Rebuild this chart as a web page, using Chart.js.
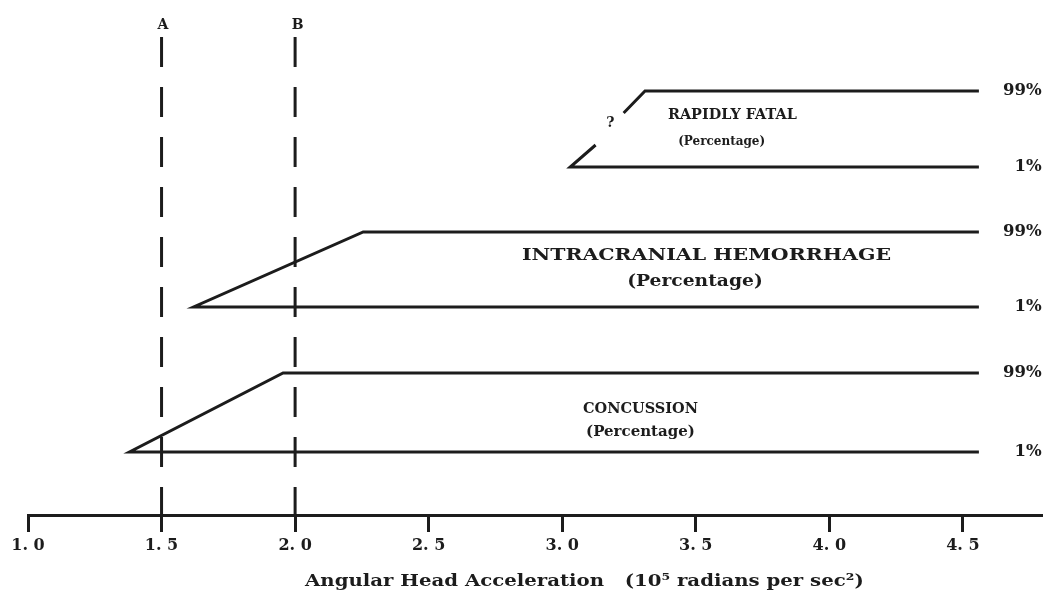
<!DOCTYPE html>
<html>
<head>
<meta charset="utf-8">
<script src="https://cdn.jsdelivr.net/npm/chart.js@4.4.0/dist/chart.umd.min.js"></script>
<style>
  html, body { margin: 0; padding: 0; background: #fff; }
  #wrap { width: 1043px; height: 591px; }
</style>
</head>
<body>
<div id="wrap"><canvas id="chartPlaceholder"></canvas></div>
<script>
// x: angular head acceleration (10^5 rad/s^2), y: arbitrary band height
const TICK_VALUES = [1.0, 1.5, 2.0, 2.5, 3.0, 3.5, 4.0, 4.5];
const TICK_LABELS = ["1. 0", "1. 5", "2. 0", "2. 5", "3. 0", "3. 5", "4. 0", "4. 5"];
const X_TITLE = "Angular Head Acceleration   (10\u2075 radians per sec\u00b2)";

// each band: 1% line drawn right-to-left, slope up, then 99% line
const concussionX = [4.56, 1.38, 1.955, 4.56];
const concussionY = [12.6, 12.6, 28.4, 28.4];

const hemorrhageX = [4.56, 1.62, 2.255, 4.56];
const hemorrhageY = [41.6, 41.6, 56.6, 56.6];

// slope of the fatal band is broken around the "?"
const fatalX = [4.56, 3.03, 3.125, 3.18, 3.23, 3.31, 4.56];
const fatalY = [69.6, 69.6, 74.0, null, 80.4, 84.8, 84.8];

const limitA = [1.5, 1.5];
const limitB = [2.0, 2.0];
const limitY = [95.6, 0];

const INK = "#1c1c1c";
const SERIF = "'DejaVu Serif', 'Liberation Serif', serif";

function toPoints(xs, ys) {
  return xs.map((x, i) => ({ x: x, y: ys[i] }));
}

// stretch widens the glyphs a little, the old typeface is broad
const labels = [
  { text: "A", x: 1.505, y: 98, size: 14, stretch: 1, align: "center" },
  { text: "B", x: 2.01, y: 98, size: 14, stretch: 1, align: "center" },
  { text: "RAPIDLY FATAL", x: 3.637, y: 80, size: 14, stretch: 1.03, align: "center" },
  { text: "(Percentage)", x: 3.597, y: 74.6, size: 12, stretch: 1, align: "center" },
  { text: "?", x: 3.18, y: 78.4, size: 14, stretch: 1, align: "center" },
  { text: "INTRACRANIAL HEMORRHAGE", x: 3.54, y: 52, size: 17.5, stretch: 1.17, align: "center" },
  { text: "(Percentage)", x: 3.497, y: 46.6, size: 17, stretch: 1.1, align: "center" },
  { text: "CONCUSSION", x: 3.293, y: 21.2, size: 14.5, stretch: 1, align: "center" },
  { text: "(Percentage)", x: 3.293, y: 16.6, size: 15, stretch: 1, align: "center" },
  { text: "99%", x: 4.795, y: 84.8, size: 16.5, stretch: 1, align: "right" },
  { text: "1%", x: 4.795, y: 69.6, size: 16.5, stretch: 1, align: "right" },
  { text: "99%", x: 4.795, y: 56.6, size: 16.5, stretch: 1, align: "right" },
  { text: "1%", x: 4.795, y: 41.6, size: 16.5, stretch: 1, align: "right" },
  { text: "99%", x: 4.795, y: 28.4, size: 16.5, stretch: 1, align: "right" },
  { text: "1%", x: 4.795, y: 12.6, size: 16.5, stretch: 1, align: "right" },
];

function drawText(ctx, text, x, y, size, stretch, align) {
  ctx.save();
  ctx.font = `bold ${size}px ${SERIF}`;
  ctx.textAlign = align;
  ctx.translate(x, y);
  ctx.scale(stretch, 1);
  ctx.fillText(text, 0, 0);
  ctx.restore();
}

const textPlugin = {
  id: "bandText",
  afterDatasetsDraw(chart) {
    const ctx = chart.ctx;
    const xs = chart.scales.x;
    const ys = chart.scales.y;
    ctx.save();
    ctx.fillStyle = INK;
    ctx.textBaseline = "middle";
    labels.forEach((l) => {
      drawText(ctx, l.text, xs.getPixelForValue(l.x), ys.getPixelForValue(l.y), l.size, l.stretch, l.align);
    });
    // axis title
    drawText(ctx, X_TITLE, xs.getPixelForValue(3.083), xs.bottom - 9, 17, 1.16, "center");
    ctx.restore();
  },
};

function bandDataset(xs, ys) {
  return {
    data: toPoints(xs, ys),
    borderColor: INK,
    borderWidth: 3,
    pointRadius: 0,
    spanGaps: false,
    tension: 0,
  };
}

function limitDataset(xs) {
  return {
    data: toPoints(xs, limitY),
    borderColor: INK,
    borderWidth: 3,
    borderDash: [30, 20],
    pointRadius: 0,
  };
}

const ctx = document.getElementById("chartPlaceholder").getContext("2d");
new Chart(ctx, {
  type: "line",
  data: {
    datasets: [
      bandDataset(concussionX, concussionY),
      bandDataset(hemorrhageX, hemorrhageY),
      bandDataset(fatalX, fatalY),
      limitDataset(limitA),
      limitDataset(limitB),
    ],
  },
  plugins: [textPlugin],
  options: {
    responsive: true,
    maintainAspectRatio: false,
    animation: false,
    layout: { padding: { left: 28, right: 0, top: 15, bottom: 0 } },
    plugins: {
      legend: { display: false },
      tooltip: { enabled: false },
    },
    scales: {
      x: {
        type: "linear",
        min: 1.0,
        max: 4.8,
        afterBuildTicks: (scale) => {
          scale.ticks = TICK_VALUES.map((v) => ({ value: v }));
        },
        afterFit: (scale) => {
          scale.height = 76;
        },
        ticks: {
          color: INK,
          padding: 4,
          maxRotation: 0,
          autoSkip: false,
          font: { family: SERIF, size: 16, weight: "bold" },
          callback: (value) => TICK_LABELS[TICK_VALUES.indexOf(value)],
        },
        grid: {
          drawOnChartArea: false,
          tickLength: 17,
          tickWidth: 3,
          tickColor: INK,
        },
        border: { display: true, color: INK, width: 3 },
        title: { display: false },
      },
      y: {
        type: "linear",
        display: false,
        min: 0,
        max: 100,
      },
    },
  },
});
</script>
</body>
</html>
